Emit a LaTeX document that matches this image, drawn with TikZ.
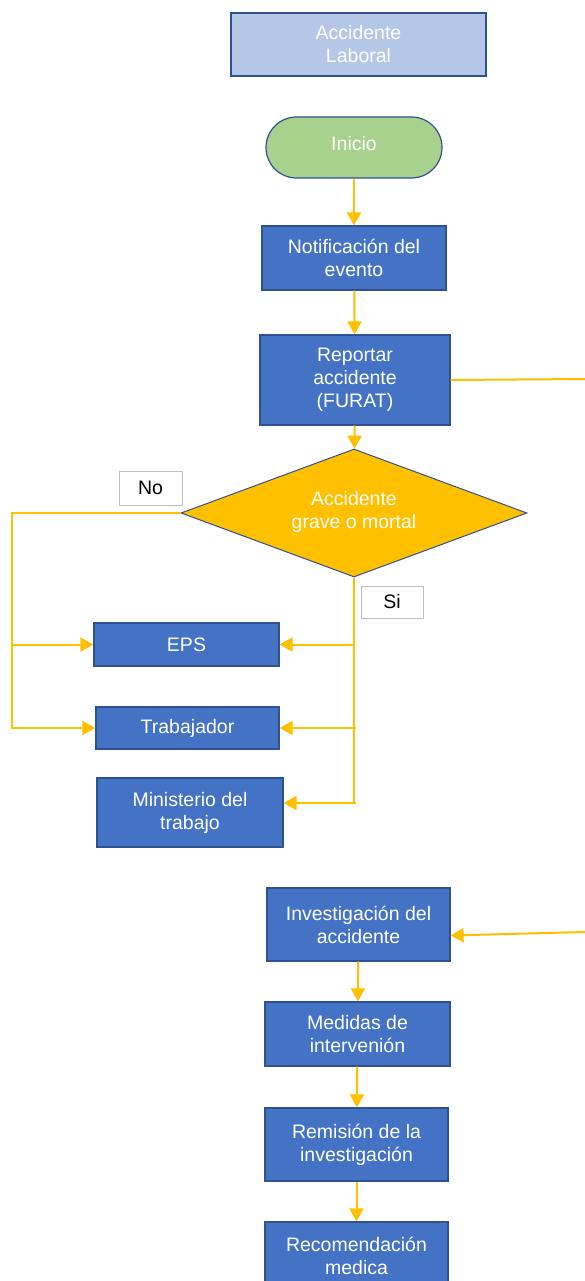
\documentclass[tikz,border=0pt]{standalone}
\usepackage{fontspec}
\setmainfont{Liberation Sans}
\usetikzlibrary{arrows.meta,shapes.geometric,shapes.misc}
\definecolor{boxblue}{HTML}{4472C4}
\definecolor{boxedge}{HTML}{2F528F}
\definecolor{paleblue}{HTML}{B4C7E7}
\definecolor{startgreen}{HTML}{A9D18E}
\definecolor{decgold}{HTML}{FFC000}
\definecolor{labeledge}{HTML}{BFBFBF}
\newcommand\boxfont{\fontsize{19.5}{23}\selectfont}
\tikzset{
  proc/.style={draw=boxedge, fill=boxblue, text=white, line width=1.2pt,
    align=center, inner sep=0pt, font=\boxfont, rectangle},
  titlebox/.style={proc, fill=paleblue},
  startbox/.style={draw=boxedge, fill=startgreen, text=white, line width=1.2pt,
    rounded rectangle, inner sep=0pt, font=\boxfont},
  decision/.style={diamond, draw=boxedge, fill=decgold, text=white, line width=1pt,
    align=center, inner sep=0pt, font=\boxfont},
  tag/.style={draw=labeledge, fill=white, text=black, line width=1pt,
    inner sep=0pt, font=\boxfont},
  link/.style={draw=decgold, line width=2pt},
  flow/.style={link, -{Triangle[length=13pt,width=14pt]}}
}
\begin{document}
\begin{tikzpicture}[x=1pt,y=-1pt]
\clip (0,0) rectangle (585,1281);
\fill[white] (0,0) rectangle (585,1281);

% header and start
\node[titlebox, minimum width=255pt, minimum height=63pt] (title) at (358.5,44.5) {Accidente\\Laboral};
\node[startbox, minimum width=176pt, minimum height=61pt] (start) at (354,147.5) {};
\node[text=white, font=\boxfont, inner sep=0pt] (starttext) at (354,144) {Inicio};

% main column
\node[proc, minimum width=184pt, minimum height=64pt] (notif) at (354,258) {Notificación del\\evento};
\node[proc, minimum width=190pt, minimum height=90pt] (rep) at (355,380) {Reportar\\accidente\\(FURAT)};
\node[decision, minimum width=346pt, minimum height=128pt, text height=0pt] (dec) at (354,513) {};
\node[text=white, align=center, font=\boxfont] (dectext) at (354,512) {Accidente\\grave o mortal};

% branch labels
\node[tag, minimum width=63pt, minimum height=34pt] (no) at (150.5,488) {No};
\node[tag, minimum width=62pt, minimum height=32pt] (si) at (392,602) {Si};

% recipients
\node[proc, minimum width=185pt, minimum height=43pt] (eps) at (186.5,644.5) {EPS};
\node[proc, minimum width=183pt, minimum height=42pt] (trab) at (187.5,728) {Trabajador};
\node[proc, minimum width=186pt, minimum height=69pt] (min) at (190,812.5) {Ministerio del\\trabajo};

% investigation column
\node[proc, minimum width=183pt, minimum height=73pt] (inv) at (358.5,924.5) {Investigación del\\accidente};
\node[proc, minimum width=185pt, minimum height=64pt] (med) at (357.5,1034) {Medidas de\\intervenión};
\node[proc, minimum width=183pt, minimum height=73pt] (rem) at (356.5,1144.5) {Remisión de la\\investigación};
\node[proc, minimum width=183pt, minimum height=68pt] (rec) at (356.5,1256) {Recomendación\\medica};

% connectors along the main column
\draw[flow] (start) -- (notif);
\draw[flow] (notif) -- (rep);
\draw[flow] (rep) -- (dec);

% report line leaving to the right
\coordinate (outA) at (585,379);
\draw[link] (rep.east) -- (outA);

% "No" branch
\coordinate (noTop) at (12,513);
\coordinate (noBot) at (12,729);
\draw[link] (dec.west) -- (noTop) -- (noBot);
\draw[flow] (eps.west -| noTop) -- (eps.west);
\draw[flow] (trab.west -| noTop) -- (trab.west);

% "Si" branch
\coordinate (siBot) at (356,803);
\draw[link] (dec.south) -- (dec.south |- siBot) -- (siBot);
\draw[flow] ([xshift=-3pt]eps.east -| siBot) -- (eps.east);
\draw[flow] (trab.east -| siBot) -- (trab.east);
\draw[flow] (siBot) -- (min.east |- siBot);

% incoming line to the investigation
\coordinate (inB) at (585,932);
\draw[flow] (inB) -- ([yshift=-11pt]inv.east);

% investigation steps
\draw[flow] (inv) -- (med);
\draw[flow] (med) -- (rem);
\draw[flow] (rem) -- (rec);
\end{tikzpicture}
\end{document}
